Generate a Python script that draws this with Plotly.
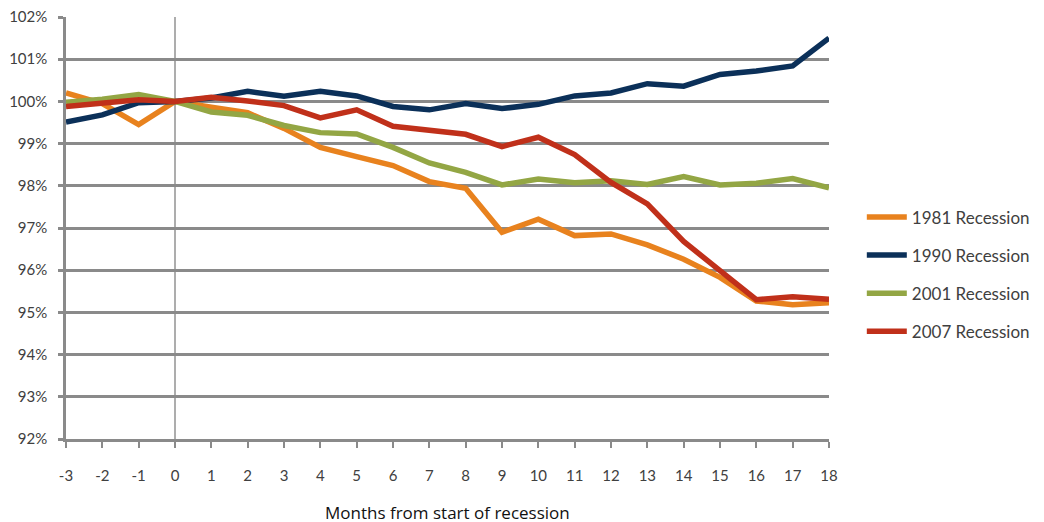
import plotly.graph_objects as go

months = list(range(-3, 19))
tick_labels = ["-3", "-2", "-1", "0", "1", "2", "3", "4", "5", "6", "7", "8", "9",
               "10", "11", "12", "13", "14", "15", "16", "17", "18"]

rec_1981 = [100.20, 99.95, 99.45, 100.00, 99.86, 99.73, 99.36, 98.91, 98.69, 98.48, 98.10,
            97.94, 96.90, 97.21, 96.82, 96.86, 96.60, 96.26, 95.83, 95.27, 95.18, 95.23]
rec_1990 = [99.51, 99.68, 99.97, 100.00, 100.08, 100.24, 100.12, 100.24, 100.13, 99.88, 99.80,
            99.95, 99.83, 99.93, 100.13, 100.20, 100.42, 100.36, 100.64, 100.72, 100.84, 101.50]
rec_2001 = [99.98, 100.05, 100.16, 100.00, 99.75, 99.67, 99.43, 99.26, 99.23, 98.91, 98.54,
            98.32, 98.02, 98.16, 98.07, 98.12, 98.03, 98.22, 98.02, 98.06, 98.17, 97.95]
rec_2007 = [99.88, 99.95, 100.04, 100.00, 100.10, 100.01, 99.90, 99.61, 99.80, 99.41, 99.30,
            99.22, 98.93, 99.15, 98.74, 98.08, 97.57, 96.68, 95.99, 95.30, 95.37, 95.31]

series_names = ["1981 Recession", "1990 Recession", "2001 Recession", "2007 Recession"]
series_values = [rec_1981, rec_1990, rec_2001, rec_2007]
colors = ["#E8821E", "#0B3059", "#93A644", "#C0301A"]

y_ticks = list(range(92, 103))
y_labels = [f"{v}%" for v in y_ticks]

fig = go.Figure()
for i, (name, vals, col) in enumerate(zip(series_names, series_values, colors)):
    fig.add_trace(go.Scatter(x=months, y=vals, mode="lines", name=name,
                             legendgroup=f"g{i}",
                             line=dict(color=col, width=5.5)))

fig.add_shape(type="line", xref="x", yref="y", x0=0, x1=0, y0=92, y1=102,
              line=dict(color="#8a8a8a", width=1.4), layer="below")

fig.add_annotation(text="Months from start of recession", xref="paper", yref="paper",
                   x=0.5, y=-73 / 422, xanchor="center", yanchor="middle", showarrow=False,
                   font=dict(family="Open Sans", size=17, color="#111111"))

fig.update_layout(
    width=1044, height=522,
    margin=dict(l=58, r=223, t=9, b=91),
    paper_bgcolor="white", plot_bgcolor="white",
    font=dict(family="Lato", color="#404040", size=15),
    showlegend=True,
    legend=dict(x=1.043, y=0.39, xanchor="left", yanchor="middle",
                font=dict(family="Lato", size=17, color="#404040"),
                traceorder="grouped", tracegroupgap=13, itemwidth=40,
                bgcolor="rgba(0,0,0,0)"),
    xaxis=dict(range=[-3, 18], tickmode="array", tickvals=months, ticktext=tick_labels,
               showgrid=False, zeroline=False, showline=True, linecolor="#8a8a8a",
               linewidth=2.5, ticks="outside", ticklen=6, tickcolor="#8a8a8a", tickwidth=2,
               ticklabelstandoff=15, automargin=False, ticklabeloverflow="allow",
               tickfont=dict(family="Lato", size=15, color="#404040")),
    yaxis=dict(range=[92, 102], tickmode="array", tickvals=y_ticks, ticktext=y_labels,
               showgrid=True, gridcolor="#8a8a8a", gridwidth=2.5, zeroline=False,
               showline=True, linecolor="#8a8a8a", linewidth=2.5,
               ticks="outside", ticklen=5, tickcolor="#8a8a8a", tickwidth=2.5,
               ticklabelstandoff=8, automargin=False, ticklabeloverflow="allow",
               tickfont=dict(family="Lato", size=15, color="#404040")),
)

fig.write_html("out.html")
